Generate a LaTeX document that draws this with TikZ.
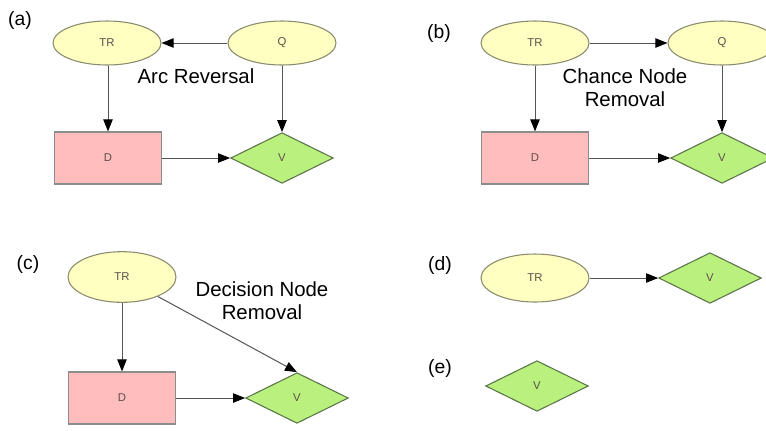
\documentclass[tikz,border=0pt]{standalone}
\usepackage{fontspec}
\setmainfont{Liberation Sans}
\usetikzlibrary{shapes.geometric,arrows.meta}
\definecolor{chfill}{HTML}{FFFFC2}
\definecolor{chline}{HTML}{8A8A6E}
\definecolor{dcfill}{HTML}{FFBDBD}
\definecolor{dcline}{HTML}{8C8C8C}
\definecolor{vfill}{HTML}{B9F07E}
\definecolor{vline}{HTML}{5A7448}
\definecolor{txtin}{HTML}{5E4E4E}
\definecolor{arr}{HTML}{555555}
\tikzset{
  chance/.style={ellipse,draw=chline,fill=chfill,line width=0.8pt,inner sep=0pt,
    minimum width=81pt,minimum height=33pt,font=\fontsize{8.5}{9}\selectfont,text=txtin},
  decision/.style={rectangle,draw=dcline,fill=dcfill,line width=0.9pt,inner sep=0pt,
    minimum width=80pt,minimum height=39pt,font=\fontsize{8.5}{9}\selectfont,text=txtin},
  value/.style={diamond,draw=vline,fill=vfill,line width=0.8pt,inner sep=0pt,
    minimum width=77pt,minimum height=38pt,font=\fontsize{8.5}{9}\selectfont,text=txtin},
  lbl/.style={font=\fontsize{14.5}{17}\selectfont,inner sep=0pt},
  captext/.style={font=\fontsize{15.3}{17.3}\selectfont,align=center,inner sep=0pt},
  link/.style={draw=arr,line width=0.75pt,-{Triangle[length=9pt,width=7pt,color=black]}}
}
\begin{document}
\begin{tikzpicture}[x=0.75pt,y=-0.75pt]
\clip (0,0) rectangle (766,430);
\fill[white] (0,0) rectangle (766,430);
% (a)
\node[lbl] (la) at (20,20) {(a)};
\node[chance] (TRa) at (107,43) {TR};
\node[chance] (Qa) at (282,43) {Q};
\node[decision] (Da) at (108,158) {D};
\node[value] (Va) at (282,158) {V};
\node[captext] (ta) at (196,76) {Arc Reversal};
\draw[link] (Qa) -- (TRa);
\draw[link] (TRa.south -| Da.north) -- (Da.north);
\draw[link] (Qa) -- (Va);
\draw[link] (Da) -- (Va);
% (b)
\node[lbl] (lb) at (439,33) {(b)};
\node[chance] (TRb) at (535,43) {TR};
\node[chance] (Qb) at (722,43) {Q};
\node[decision] (Db) at (535,158) {D};
\node[value] (Vb) at (722,158) {V};
\node[captext] (tb) at (625,88) {Chance Node\\Removal};
\draw[link] (TRb) -- (Qb);
\draw[link] (TRb) -- (Db);
\draw[link] (Qb) -- (Vb);
\draw[link] (Db) -- (Vb);
% (c)
\node[lbl] (lc) at (28,264) {(c)};
\node[chance,minimum height=38pt] (TRc) at (122,277) {TR};
\node[decision] (Dc) at (122,398) {D};
\node[value] (Vc) at (297,398) {V};
\node[captext] (tc) at (262,301) {Decision Node\\Removal};
\draw[link] (TRc) -- (Dc);
\draw[link] (TRc) -- (Vc.north);
\draw[link] (Dc) -- (Vc);
% (d)
\node[lbl] (ld) at (440,265) {(d)};
\node[chance,minimum height=36pt] (TRd) at (535,278) {TR};
\node[value] (Vd) at (710,278) {V};
\draw[link] (TRd) -- (Vd);
% (e)
\node[lbl] (le) at (440,368) {(e)};
\node[value] (Ve) at (537,386) {V};
\end{tikzpicture}
\end{document}
